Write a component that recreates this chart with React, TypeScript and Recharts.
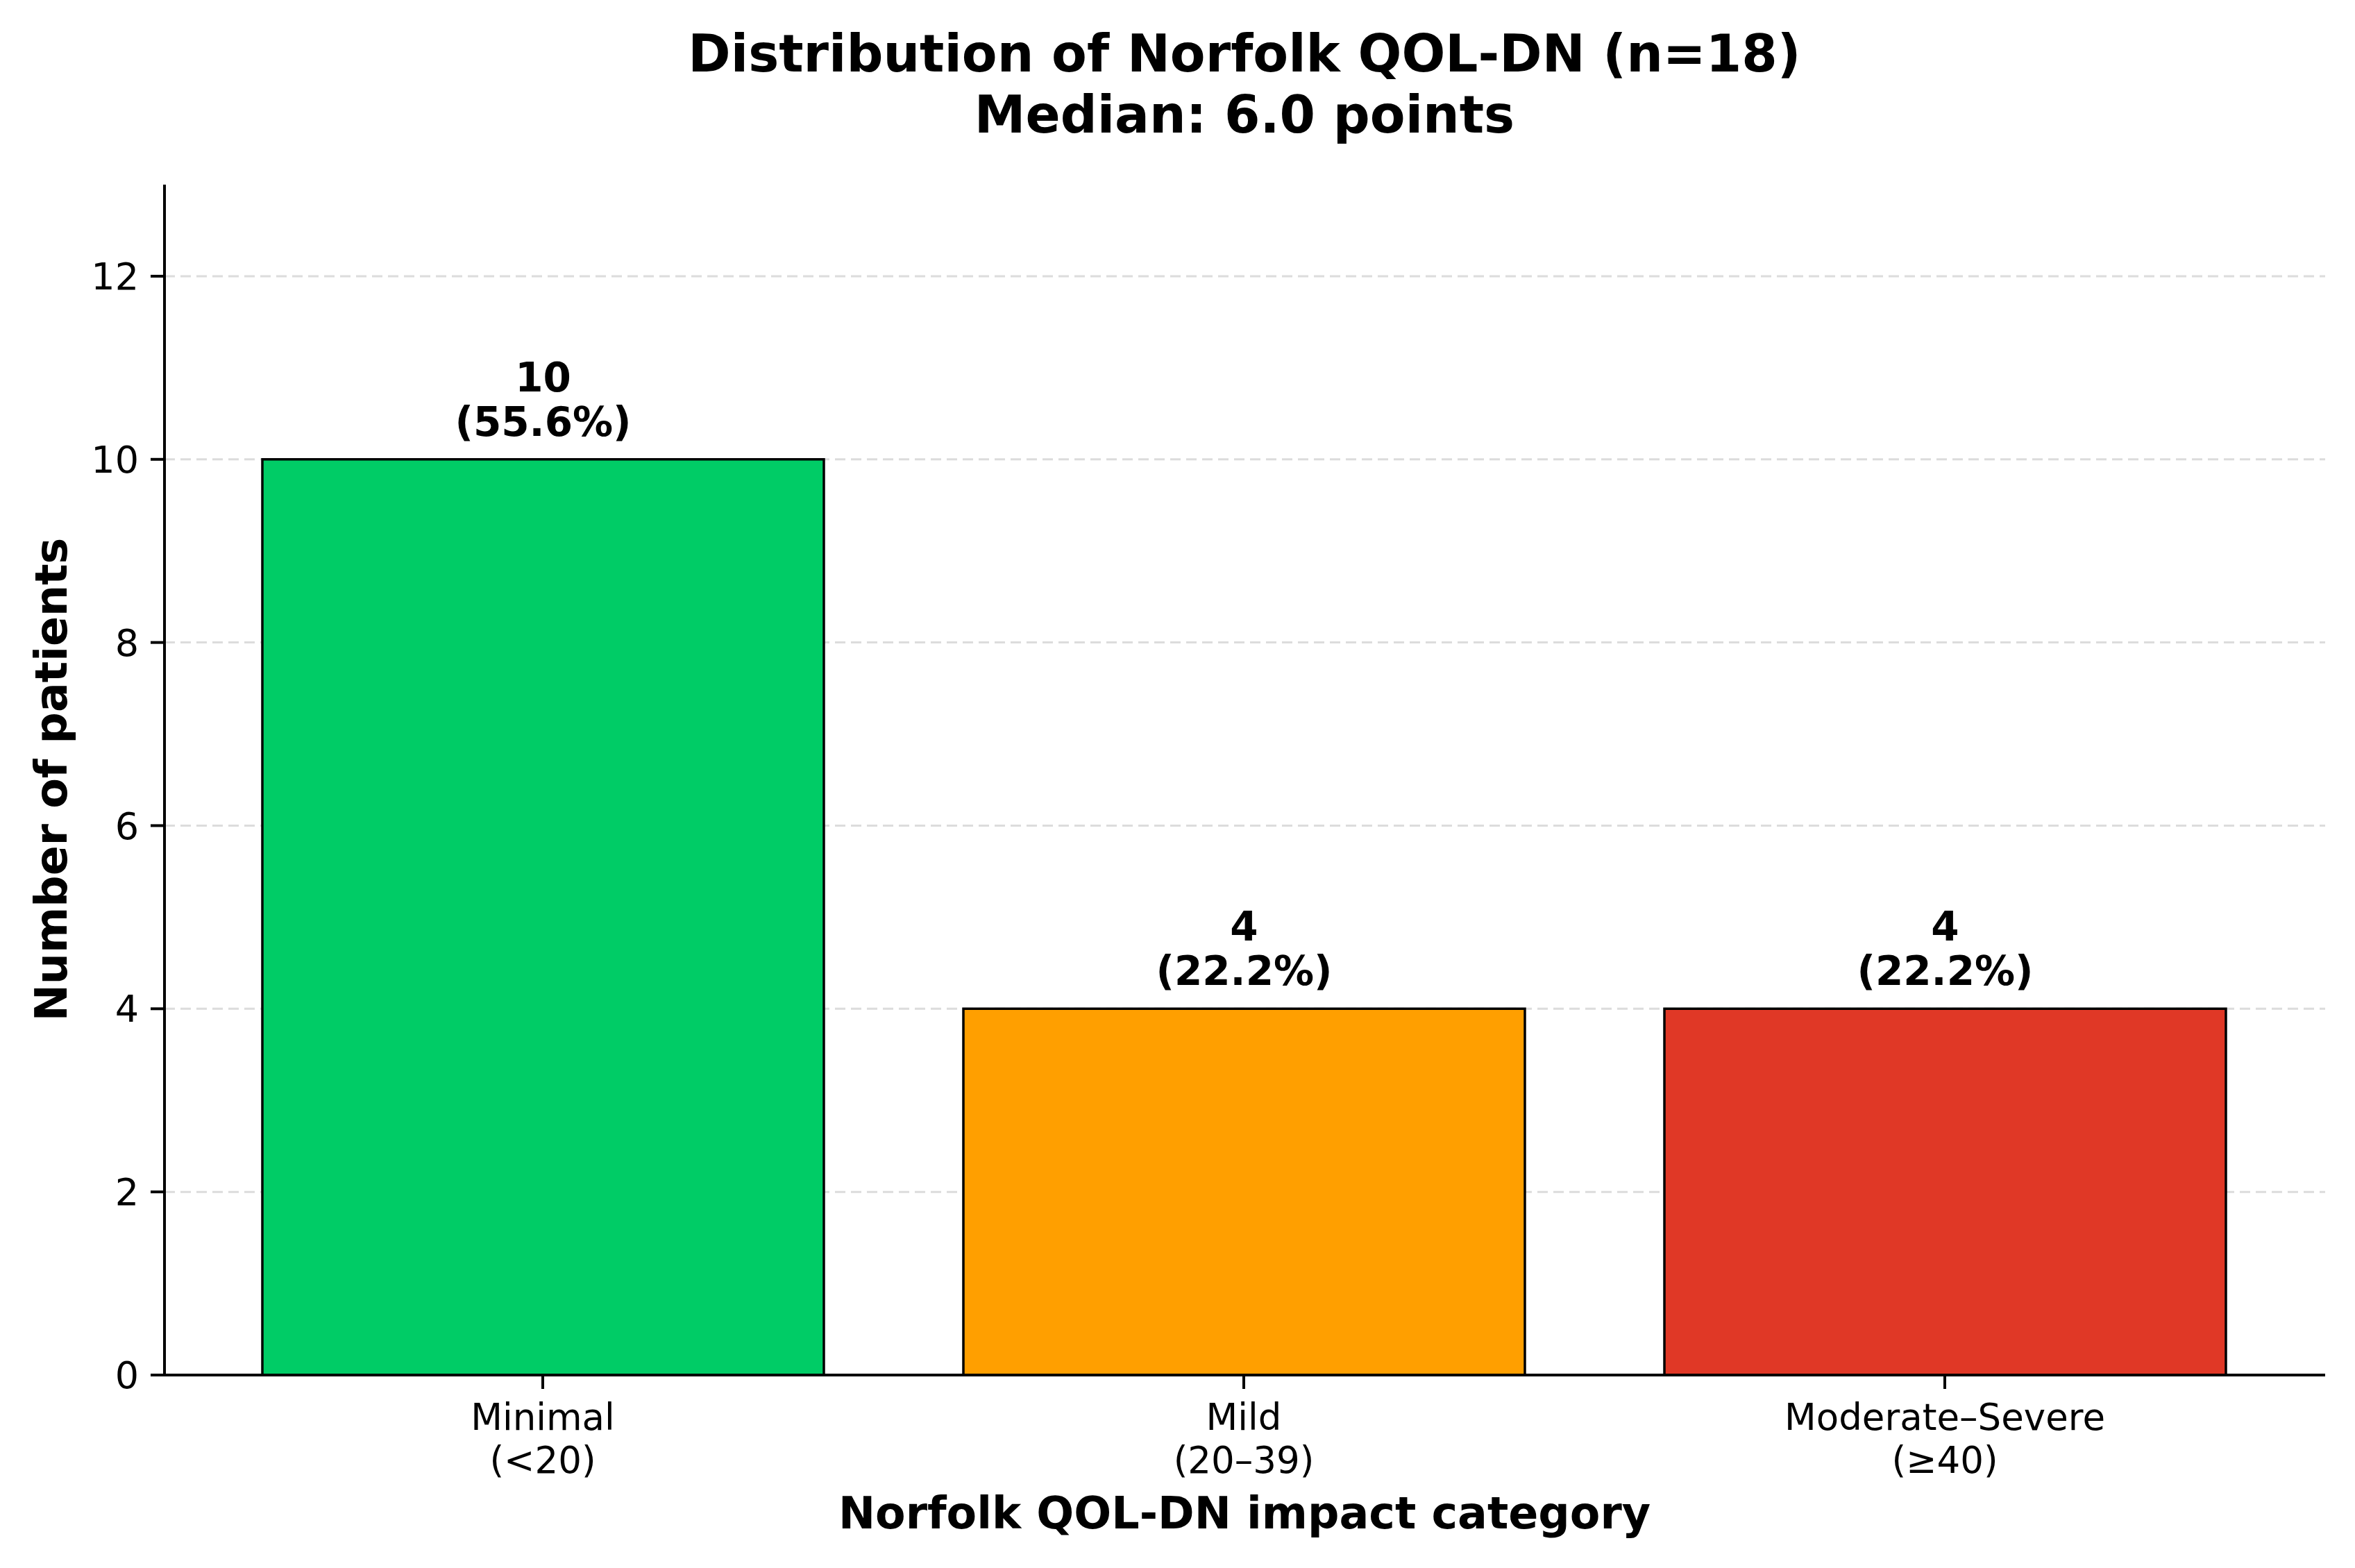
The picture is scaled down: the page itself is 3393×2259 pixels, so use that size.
import React from "react";
import { BarChart, Bar, XAxis, YAxis, CartesianGrid, Cell, LabelList } from "recharts";

const categories = ["Minimal", "Mild", "Moderate–Severe"];
const scoreRanges = ["(<20)", "(20–39)", "(≥40)"];
const patientCounts = [10, 4, 4];
const percentLabels = ["55.6%", "22.2%", "22.2%"];
const barColors = ["#00cc66", "#ff9f00", "#e03826"];
const yTicks = [0, 2, 4, 6, 8, 10, 12];
const titleLines = ["Distribution of Norfolk QOL-DN (n=18)", "Median: 6.0 points"];
const xAxisTitle = "Norfolk QOL-DN impact category";
const yAxisTitle = "Number of patients";

const data = categories.map((c, i) => ({
  category: c,
  range: scoreRanges[i],
  count: patientCounts[i],
  pct: percentLabels[i],
}));

const W = 3393;
const H = 2259;
const FONT = "'DejaVu Sans', sans-serif";

function XTick(props: any) {
  const { x, y, payload } = props;
  const d = data.find((r) => r.category === payload.value);
  return (
    <text x={x} y={y + 59} textAnchor="middle" fontFamily={FONT} fontSize={53} fill="#000">
      <tspan x={x}>{payload.value}</tspan>
      <tspan x={x} dy={62}>{d ? d.range : ""}</tspan>
    </text>
  );
}

function BarLabel(props: any) {
  const { x, y, width, index } = props;
  const cx = Number(x) + Number(width) / 2;
  const top = Number(y);
  const d = data[index];
  return (
    <text textAnchor="middle" fontFamily={FONT} fontSize={58} fontWeight="bold" fill="#000">
      <tspan x={cx} y={top - 98}>{d.count}</tspan>
      <tspan x={cx} y={top - 34}>({d.pct})</tspan>
    </text>
  );
}

export default function App() {
  return (
    <div style={{ position: "absolute", left: 0, top: 0, width: W, height: H, background: "#fff" }}>
      <BarChart
        width={W}
        height={H}
        data={data}
        margin={{ top: 266, right: 43, bottom: 0, left: 0 }}
      >
        <CartesianGrid
          horizontal={true}
          vertical={false}
          syncWithTicks={true}
          horizontalValues={yTicks}
          stroke="#dcdcdc"
          strokeWidth={3}
          strokeDasharray="15 8"
        />
        <XAxis
          dataKey="category"
          height={278}
          padding={{ left: 40, right: 43 }}
          tick={<XTick />}
          tickSize={20}
          tickMargin={0}
          axisLine={{ stroke: "#000", strokeWidth: 4 }}
          tickLine={{ stroke: "#000", strokeWidth: 4 }}
          interval={0}
        />
        <YAxis
          type="number"
          domain={[0, 13]}
          ticks={yTicks}
          width={237}
          tickSize={20}
          tickMargin={17}
          axisLine={{ stroke: "#000", strokeWidth: 4 }}
          tickLine={{ stroke: "#000", strokeWidth: 4 }}
          tick={{ fontFamily: FONT, fontSize: 54, fill: "#000" }}
          allowDecimals={false}
        />
        <Bar
          dataKey="count"
          barSize={809}
          stroke="#000"
          strokeWidth={3.5}
          isAnimationActive={false}
        >
          {data.map((d, i) => (
            <Cell key={d.category} fill={barColors[i]} />
          ))}
          <LabelList dataKey="count" content={<BarLabel />} />
        </Bar>
      </BarChart>
      <svg
        width={W}
        height={H}
        style={{ position: "absolute", left: 0, top: 0, pointerEvents: "none" }}
      >
        <text x={1793} y={103} textAnchor="middle" fontFamily={FONT} fontSize={74} fontWeight="bold" fill="#000">
          {titleLines[0]}
        </text>
        <text x={1793} y={191} textAnchor="middle" fontFamily={FONT} fontSize={74} fontWeight="bold" fill="#000">
          {titleLines[1]}
        </text>
        <text x={1793} y={2202} textAnchor="middle" fontFamily={FONT} fontSize={63.5} fontWeight="bold" fill="#000">
          {xAxisTitle}
        </text>
        <text
          x={96}
          y={1123}
          textAnchor="middle"
          fontFamily={FONT}
          fontSize={63.5}
          fontWeight="bold"
          fill="#000"
          transform="rotate(-90, 96, 1123)"
        >
          {yAxisTitle}
        </text>
      </svg>
    </div>
  );
}
